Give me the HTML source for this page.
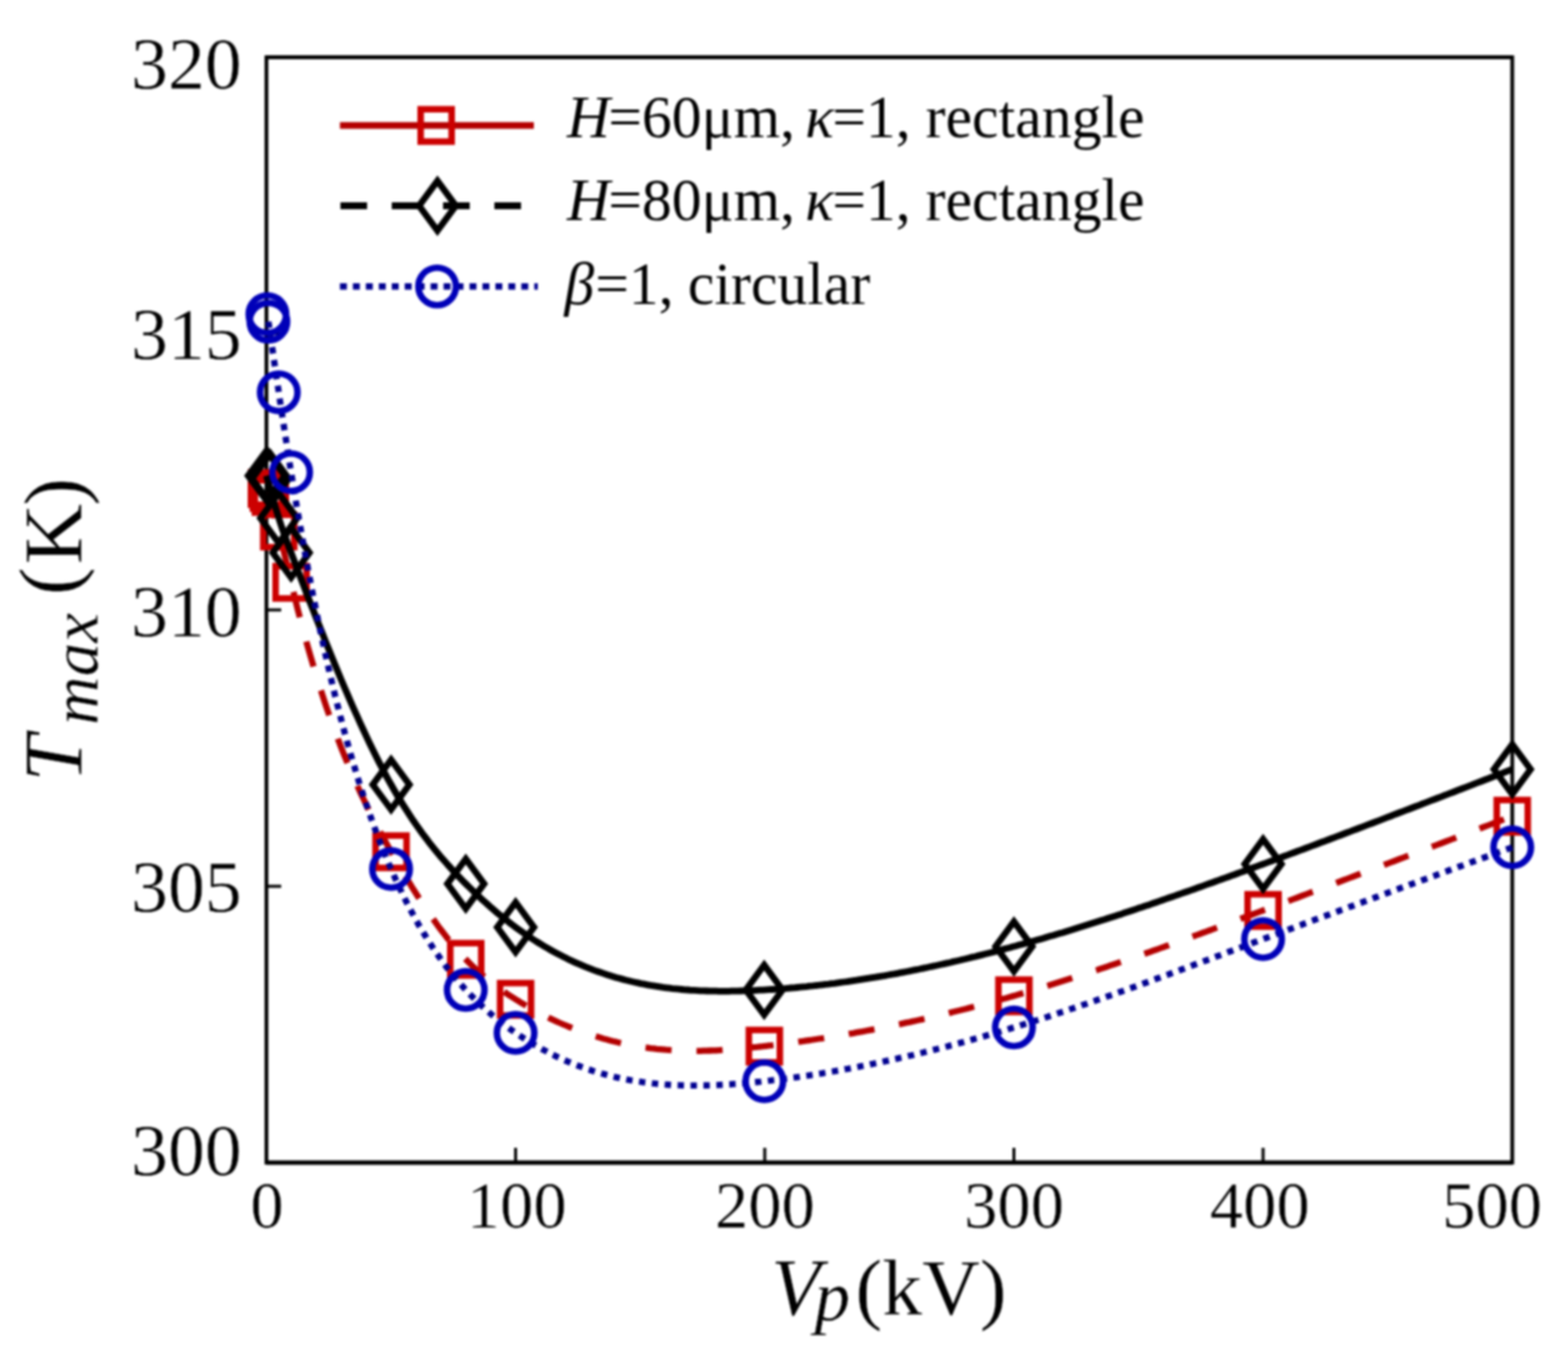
<!DOCTYPE html>
<html lang="en">
<head>
<meta charset="utf-8">
<title>Tmax versus Vp</title>
<style>
html,body{margin:0;padding:0;background:#fff;}
body{width:1589px;height:1379px;overflow:hidden;}
svg{display:block;}
text{font-family:"Liberation Serif","DejaVu Serif",serif;fill:#000;stroke:#fff;stroke-width:0.3px;stroke-linejoin:round;}
.it{font-style:italic;}
.ytick{font-size:74.8px;text-anchor:end;stroke-width:0.5px;}
.xtick{font-size:67.5px;text-anchor:middle;stroke-width:0.4px;}
.leg{font-size:60.5px;stroke-width:0;}
.axl{font-size:85px;}
</style>
</head>
<body>
<svg width="1589" height="1379" viewBox="0 0 1589 1379">
<defs><filter id="soft" filterUnits="userSpaceOnUse" x="0" y="0" width="1589" height="1379" color-interpolation-filters="sRGB"><feGaussianBlur stdDeviation="0.9"/></filter></defs>
<rect x="0" y="0" width="1589" height="1379" fill="#ffffff"/>
<g id="chart" filter="url(#soft)">

<g fill="none" stroke="#000" stroke-width="3.8">
<rect x="270.0" y="58.0" width="1262.5" height="1120.0"/>
<line x1="270.0" y1="1178.0" x2="1532.5" y2="1178.0" stroke-width="4.6"/>
<line x1="270.0" y1="58.0" x2="1532.5" y2="58.0" stroke-width="4.1"/>
<line x1="522.5" y1="1178.0" x2="522.5" y2="1163.0" stroke-width="3"/>
<line x1="775.0" y1="1178.0" x2="775.0" y2="1163.0" stroke-width="3"/>
<line x1="1027.5" y1="1178.0" x2="1027.5" y2="1163.0" stroke-width="3"/>
<line x1="1280.0" y1="1178.0" x2="1280.0" y2="1163.0" stroke-width="3"/>
<line x1="270.0" y1="898.0" stroke-width="3" x2="285.0" y2="898.0"/>
<line x1="270.0" y1="618.0" stroke-width="3" x2="285.0" y2="618.0"/>
<line x1="270.0" y1="338.0" stroke-width="3" x2="285.0" y2="338.0"/>
</g>
<g fill="none" stroke="#cc0000">
<path d="M270.0,495.0 L273.2,505.3 L276.3,515.8 L279.5,526.8 L282.7,538.6 L285.8,551.2 L289.0,564.5 L292.1,577.9 L295.3,591.3 L298.5,604.3 L301.6,617.0 L304.8,629.2 L308.0,641.0 L311.1,652.5 L314.3,663.7 L317.5,674.5 L320.6,684.9 L323.8,695.1 L327.0,704.9 L330.1,714.4 L333.3,723.7 L336.4,732.6 L339.6,741.3 L342.8,749.7 L345.9,757.9 L349.1,765.8 L352.3,773.5 L355.4,781.0 L358.6,788.3 L361.8,795.4 L364.9,802.3 L368.1,809.0 L371.3,815.6 L374.4,822.0 L377.6,828.3 L380.7,834.4 L383.9,840.4 L387.1,846.3 L390.2,852.1 L393.4,857.8 L396.6,863.5 L399.7,869.0 L402.9,874.5 L406.1,879.9 L409.2,885.3 L412.4,890.5 L415.6,895.7 L418.7,900.8 L421.9,905.8 L425.0,910.7 L428.2,915.6 L431.4,920.3 L434.5,924.9 L437.7,929.5 L440.9,933.9 L444.0,938.3 L447.2,942.5 L450.4,946.7 L453.5,950.7 L456.7,954.6 L459.8,958.4 L463.0,962.1 L466.2,965.7 L469.3,969.2 L472.5,972.5 L475.7,975.7 L478.8,978.9 L482.0,981.9 L485.2,984.7 L488.3,987.5 L491.5,990.2 L494.7,992.8 L497.8,995.3 L501.0,997.8 L504.1,1000.1 L507.3,1002.4 L510.5,1004.6 L513.6,1006.8 L516.8,1008.9 L520.0,1010.9 L523.1,1012.9 L526.3,1014.8 L529.5,1016.8 L532.6,1018.6 L535.8,1020.5 L539.0,1022.2 L542.1,1024.0 L545.3,1025.7 L548.4,1027.4 L551.6,1029.0 L554.8,1030.6 L557.9,1032.1 L561.1,1033.6 L564.3,1035.1 L567.4,1036.5 L570.6,1037.9 L573.8,1039.2 L576.9,1040.5 L580.1,1041.8 L583.3,1043.0 L586.4,1044.2 L589.6,1045.4 L592.7,1046.5 L595.9,1047.6 L599.1,1048.6 L602.2,1049.6 L605.4,1050.6 L608.6,1051.6 L611.7,1052.5 L614.9,1053.3 L618.1,1054.2 L621.2,1055.0 L624.4,1055.7 L627.6,1056.5 L630.7,1057.2 L633.9,1057.9 L637.0,1058.5 L640.2,1059.1 L643.4,1059.7 L646.5,1060.2 L649.7,1060.7 L652.9,1061.2 L656.0,1061.6 L659.2,1062.1 L662.4,1062.4 L665.5,1062.8 L668.7,1063.1 L671.8,1063.4 L675.0,1063.7 L678.2,1063.9 L681.3,1064.1 L684.5,1064.3 L687.7,1064.5 L690.8,1064.6 L694.0,1064.7 L697.2,1064.8 L700.3,1064.8 L703.5,1064.8 L706.7,1064.8 L709.8,1064.8 L713.0,1064.7 L716.1,1064.6 L719.3,1064.5 L722.5,1064.4 L725.6,1064.3 L728.8,1064.1 L732.0,1063.9 L735.1,1063.7 L738.3,1063.5 L741.5,1063.3 L744.6,1063.0 L747.8,1062.7 L751.0,1062.5 L754.1,1062.2 L757.3,1061.9 L760.4,1061.5 L763.6,1061.2 L766.8,1060.9 L769.9,1060.5 L773.1,1060.2 L776.3,1059.8 L779.4,1059.4 L782.6,1059.1 L785.8,1058.7 L788.9,1058.3 L792.1,1057.9 L795.3,1057.5 L798.4,1057.1 L801.6,1056.6 L804.7,1056.2 L807.9,1055.8 L811.1,1055.3 L814.2,1054.9 L817.4,1054.4 L820.6,1054.0 L823.7,1053.5 L826.9,1053.0 L830.1,1052.5 L833.2,1052.1 L836.4,1051.6 L839.5,1051.1 L842.7,1050.5 L845.9,1050.0 L849.0,1049.5 L852.2,1049.0 L855.4,1048.4 L858.5,1047.9 L861.7,1047.3 L864.9,1046.8 L868.0,1046.2 L871.2,1045.6 L874.4,1045.1 L877.5,1044.5 L880.7,1043.9 L883.8,1043.3 L887.0,1042.7 L890.2,1042.1 L893.3,1041.4 L896.5,1040.8 L899.7,1040.2 L902.8,1039.5 L906.0,1038.9 L909.2,1038.2 L912.3,1037.6 L915.5,1036.9 L918.7,1036.2 L921.8,1035.6 L925.0,1034.9 L928.1,1034.2 L931.3,1033.5 L934.5,1032.8 L937.6,1032.1 L940.8,1031.3 L944.0,1030.6 L947.1,1029.9 L950.3,1029.1 L953.5,1028.4 L956.6,1027.6 L959.8,1026.9 L963.0,1026.1 L966.1,1025.3 L969.3,1024.5 L972.4,1023.8 L975.6,1023.0 L978.8,1022.2 L981.9,1021.4 L985.1,1020.5 L988.3,1019.7 L991.4,1018.9 L994.6,1018.1 L997.8,1017.2 L1000.9,1016.4 L1004.1,1015.5 L1007.2,1014.7 L1010.4,1013.8 L1013.6,1012.9 L1016.7,1012.0 L1019.9,1011.2 L1023.1,1010.3 L1026.2,1009.4 L1029.4,1008.5 L1032.6,1007.5 L1035.7,1006.6 L1038.9,1005.7 L1042.1,1004.8 L1045.2,1003.8 L1048.4,1002.9 L1051.5,1001.9 L1054.7,1001.0 L1057.9,1000.0 L1061.0,999.1 L1064.2,998.1 L1067.4,997.1 L1070.5,996.1 L1073.7,995.1 L1076.9,994.1 L1080.0,993.1 L1083.2,992.1 L1086.4,991.1 L1089.5,990.1 L1092.7,989.1 L1095.8,988.1 L1099.0,987.0 L1102.2,986.0 L1105.3,985.0 L1108.5,983.9 L1111.7,982.9 L1114.8,981.8 L1118.0,980.8 L1121.2,979.7 L1124.3,978.6 L1127.5,977.6 L1130.7,976.5 L1133.8,975.4 L1137.0,974.3 L1140.1,973.2 L1143.3,972.2 L1146.5,971.1 L1149.6,970.0 L1152.8,968.9 L1156.0,967.8 L1159.1,966.6 L1162.3,965.5 L1165.5,964.4 L1168.6,963.3 L1171.8,962.2 L1174.9,961.1 L1178.1,959.9 L1181.3,958.8 L1184.4,957.7 L1187.6,956.5 L1190.8,955.4 L1193.9,954.3 L1197.1,953.1 L1200.3,952.0 L1203.4,950.8 L1206.6,949.7 L1209.8,948.5 L1212.9,947.4 L1216.1,946.2 L1219.2,945.0 L1222.4,943.9 L1225.6,942.7 L1228.7,941.6 L1231.9,940.4 L1235.1,939.2 L1238.2,938.0 L1241.4,936.9 L1244.6,935.7 L1247.7,934.5 L1250.9,933.4 L1254.1,932.2 L1257.2,931.0 L1260.4,929.8 L1263.5,928.6 L1266.7,927.5 L1269.9,926.3 L1273.0,925.1 L1276.2,923.9 L1279.4,922.7 L1282.5,921.6 L1285.7,920.4 L1288.9,919.2 L1292.0,918.0 L1295.2,916.8 L1298.4,915.6 L1301.5,914.4 L1304.7,913.3 L1307.8,912.1 L1311.0,910.9 L1314.2,909.7 L1317.3,908.5 L1320.5,907.3 L1323.7,906.1 L1326.8,904.9 L1330.0,903.7 L1333.2,902.6 L1336.3,901.4 L1339.5,900.2 L1342.7,899.0 L1345.8,897.8 L1349.0,896.6 L1352.1,895.4 L1355.3,894.2 L1358.5,893.0 L1361.6,891.8 L1364.8,890.6 L1368.0,889.4 L1371.1,888.2 L1374.3,887.0 L1377.5,885.8 L1380.6,884.6 L1383.8,883.5 L1386.9,882.3 L1390.1,881.1 L1393.3,879.9 L1396.4,878.7 L1399.6,877.5 L1402.8,876.3 L1405.9,875.1 L1409.1,873.9 L1412.3,872.7 L1415.4,871.5 L1418.6,870.3 L1421.8,869.1 L1424.9,867.9 L1428.1,866.7 L1431.2,865.5 L1434.4,864.3 L1437.6,863.1 L1440.7,861.9 L1443.9,860.7 L1447.1,859.5 L1450.2,858.3 L1453.4,857.1 L1456.6,855.9 L1459.7,854.7 L1462.9,853.5 L1466.1,852.3 L1469.2,851.1 L1472.4,849.9 L1475.5,848.7 L1478.7,847.5 L1481.9,846.2 L1485.0,845.0 L1488.2,843.8 L1491.4,842.6 L1494.5,841.4 L1497.7,840.2 L1500.9,839.0 L1504.0,837.8 L1507.2,836.6 L1510.4,835.4 L1513.5,834.2 L1516.7,833.0 L1519.8,831.8 L1523.0,830.6 L1526.2,829.4 L1529.3,828.2 L1532.5,827.0" stroke="#b40000" stroke-width="6.3" stroke-linejoin="round" stroke-dasharray="26.5 25.3" stroke-dashoffset="-4.8"/>
<g stroke-width="6.6" stroke-linejoin="miter"><rect x="254.3" y="478.6" width="31.4" height="32.8"/><rect x="256.3" y="482.6" width="31.4" height="32.8"/><rect x="258.3" y="486.6" width="31.4" height="32.8"/><rect x="266.8" y="521.6" width="31.4" height="32.8"/><rect x="279.3" y="573.6" width="31.4" height="32.8"/><rect x="380.6" y="846.6" width="31.4" height="32.8"/><rect x="456.3" y="955.6" width="31.4" height="32.8"/><rect x="506.8" y="996.1" width="31.4" height="32.8"/><rect x="758.9" y="1043.6" width="31.4" height="32.8"/><rect x="1011.8" y="992.6" width="31.4" height="32.8"/><rect x="1264.3" y="906.1" width="31.4" height="32.8"/><rect x="1516.8" y="810.6" width="31.4" height="32.8"/></g>
</g>
<g fill="none" stroke="#000000">
<path d="M270.0,482.0 L273.2,493.4 L276.3,504.5 L279.5,515.3 L282.7,525.5 L285.8,535.0 L289.0,543.9 L292.1,552.5 L295.3,560.8 L298.5,569.1 L301.6,577.4 L304.8,585.7 L308.0,594.0 L311.1,602.2 L314.3,610.4 L317.5,618.5 L320.6,626.6 L323.8,634.6 L327.0,642.6 L330.1,650.5 L333.3,658.3 L336.4,666.1 L339.6,673.8 L342.8,681.5 L345.9,689.0 L349.1,696.5 L352.3,703.9 L355.4,711.2 L358.6,718.4 L361.8,725.4 L364.9,732.4 L368.1,739.3 L371.3,746.1 L374.4,752.7 L377.6,759.2 L380.7,765.6 L383.9,771.9 L387.1,778.0 L390.2,784.0 L393.4,789.8 L396.6,795.5 L399.7,801.0 L402.9,806.4 L406.1,811.6 L409.2,816.7 L412.4,821.7 L415.6,826.6 L418.7,831.3 L421.9,835.9 L425.0,840.3 L428.2,844.7 L431.4,848.9 L434.5,853.1 L437.7,857.1 L440.9,861.1 L444.0,864.9 L447.2,868.7 L450.4,872.3 L453.5,875.9 L456.7,879.4 L459.8,882.9 L463.0,886.3 L466.2,889.6 L469.3,892.8 L472.5,896.0 L475.7,899.1 L478.8,902.2 L482.0,905.3 L485.2,908.3 L488.3,911.2 L491.5,914.1 L494.7,916.9 L497.8,919.7 L501.0,922.4 L504.1,925.1 L507.3,927.7 L510.5,930.2 L513.6,932.7 L516.8,935.2 L520.0,937.6 L523.1,940.0 L526.3,942.3 L529.5,944.5 L532.6,946.7 L535.8,948.9 L539.0,951.0 L542.1,953.0 L545.3,955.0 L548.4,956.9 L551.6,958.8 L554.8,960.7 L557.9,962.5 L561.1,964.3 L564.3,966.0 L567.4,967.6 L570.6,969.2 L573.8,970.8 L576.9,972.4 L580.1,973.8 L583.3,975.3 L586.4,976.7 L589.6,978.0 L592.7,979.4 L595.9,980.6 L599.1,981.9 L602.2,983.1 L605.4,984.2 L608.6,985.3 L611.7,986.4 L614.9,987.5 L618.1,988.5 L621.2,989.4 L624.4,990.4 L627.6,991.3 L630.7,992.1 L633.9,993.0 L637.0,993.7 L640.2,994.5 L643.4,995.2 L646.5,995.9 L649.7,996.6 L652.9,997.2 L656.0,997.8 L659.2,998.4 L662.4,998.9 L665.5,999.4 L668.7,999.9 L671.8,1000.4 L675.0,1000.8 L678.2,1001.2 L681.3,1001.6 L684.5,1001.9 L687.7,1002.2 L690.8,1002.5 L694.0,1002.8 L697.2,1003.0 L700.3,1003.3 L703.5,1003.4 L706.7,1003.6 L709.8,1003.8 L713.0,1003.9 L716.1,1004.0 L719.3,1004.1 L722.5,1004.2 L725.6,1004.2 L728.8,1004.3 L732.0,1004.3 L735.1,1004.3 L738.3,1004.3 L741.5,1004.2 L744.6,1004.2 L747.8,1004.1 L751.0,1004.0 L754.1,1003.9 L757.3,1003.8 L760.4,1003.7 L763.6,1003.6 L766.8,1003.4 L769.9,1003.2 L773.1,1003.1 L776.3,1002.9 L779.4,1002.7 L782.6,1002.5 L785.8,1002.3 L788.9,1002.0 L792.1,1001.8 L795.3,1001.6 L798.4,1001.3 L801.6,1001.0 L804.7,1000.8 L807.9,1000.5 L811.1,1000.2 L814.2,999.9 L817.4,999.6 L820.6,999.2 L823.7,998.9 L826.9,998.5 L830.1,998.2 L833.2,997.8 L836.4,997.4 L839.5,997.1 L842.7,996.7 L845.9,996.3 L849.0,995.8 L852.2,995.4 L855.4,995.0 L858.5,994.6 L861.7,994.1 L864.9,993.6 L868.0,993.2 L871.2,992.7 L874.4,992.2 L877.5,991.7 L880.7,991.2 L883.8,990.7 L887.0,990.2 L890.2,989.6 L893.3,989.1 L896.5,988.6 L899.7,988.0 L902.8,987.4 L906.0,986.9 L909.2,986.3 L912.3,985.7 L915.5,985.1 L918.7,984.5 L921.8,983.9 L925.0,983.2 L928.1,982.6 L931.3,982.0 L934.5,981.3 L937.6,980.7 L940.8,980.0 L944.0,979.3 L947.1,978.7 L950.3,978.0 L953.5,977.3 L956.6,976.6 L959.8,975.9 L963.0,975.2 L966.1,974.4 L969.3,973.7 L972.4,973.0 L975.6,972.2 L978.8,971.5 L981.9,970.7 L985.1,969.9 L988.3,969.2 L991.4,968.4 L994.6,967.6 L997.8,966.8 L1000.9,966.0 L1004.1,965.2 L1007.2,964.4 L1010.4,963.6 L1013.6,962.7 L1016.7,961.9 L1019.9,961.0 L1023.1,960.2 L1026.2,959.3 L1029.4,958.5 L1032.6,957.6 L1035.7,956.7 L1038.9,955.9 L1042.1,955.0 L1045.2,954.1 L1048.4,953.2 L1051.5,952.3 L1054.7,951.4 L1057.9,950.5 L1061.0,949.5 L1064.2,948.6 L1067.4,947.7 L1070.5,946.7 L1073.7,945.8 L1076.9,944.9 L1080.0,943.9 L1083.2,942.9 L1086.4,942.0 L1089.5,941.0 L1092.7,940.0 L1095.8,939.1 L1099.0,938.1 L1102.2,937.1 L1105.3,936.1 L1108.5,935.1 L1111.7,934.1 L1114.8,933.1 L1118.0,932.1 L1121.2,931.0 L1124.3,930.0 L1127.5,929.0 L1130.7,928.0 L1133.8,926.9 L1137.0,925.9 L1140.1,924.8 L1143.3,923.8 L1146.5,922.7 L1149.6,921.7 L1152.8,920.6 L1156.0,919.6 L1159.1,918.5 L1162.3,917.4 L1165.5,916.4 L1168.6,915.3 L1171.8,914.2 L1174.9,913.1 L1178.1,912.0 L1181.3,910.9 L1184.4,909.8 L1187.6,908.7 L1190.8,907.6 L1193.9,906.5 L1197.1,905.4 L1200.3,904.3 L1203.4,903.2 L1206.6,902.1 L1209.8,901.0 L1212.9,899.8 L1216.1,898.7 L1219.2,897.6 L1222.4,896.4 L1225.6,895.3 L1228.7,894.2 L1231.9,893.0 L1235.1,891.9 L1238.2,890.8 L1241.4,889.6 L1244.6,888.5 L1247.7,887.3 L1250.9,886.2 L1254.1,885.0 L1257.2,883.9 L1260.4,882.7 L1263.5,881.5 L1266.7,880.4 L1269.9,879.2 L1273.0,878.1 L1276.2,876.9 L1279.4,875.7 L1282.5,874.6 L1285.7,873.4 L1288.9,872.2 L1292.0,871.1 L1295.2,869.9 L1298.4,868.7 L1301.5,867.5 L1304.7,866.4 L1307.8,865.2 L1311.0,864.0 L1314.2,862.8 L1317.3,861.6 L1320.5,860.5 L1323.7,859.3 L1326.8,858.1 L1330.0,856.9 L1333.2,855.7 L1336.3,854.5 L1339.5,853.3 L1342.7,852.2 L1345.8,851.0 L1349.0,849.8 L1352.1,848.6 L1355.3,847.4 L1358.5,846.2 L1361.6,845.0 L1364.8,843.8 L1368.0,842.6 L1371.1,841.4 L1374.3,840.2 L1377.5,839.0 L1380.6,837.8 L1383.8,836.6 L1386.9,835.4 L1390.1,834.2 L1393.3,833.0 L1396.4,831.8 L1399.6,830.6 L1402.8,829.4 L1405.9,828.2 L1409.1,827.0 L1412.3,825.7 L1415.4,824.5 L1418.6,823.3 L1421.8,822.1 L1424.9,820.9 L1428.1,819.7 L1431.2,818.5 L1434.4,817.3 L1437.6,816.1 L1440.7,814.8 L1443.9,813.6 L1447.1,812.4 L1450.2,811.2 L1453.4,810.0 L1456.6,808.8 L1459.7,807.6 L1462.9,806.3 L1466.1,805.1 L1469.2,803.9 L1472.4,802.7 L1475.5,801.5 L1478.7,800.2 L1481.9,799.0 L1485.0,797.8 L1488.2,796.6 L1491.4,795.4 L1494.5,794.1 L1497.7,792.9 L1500.9,791.7 L1504.0,790.5 L1507.2,789.3 L1510.4,788.0 L1513.5,786.8 L1516.7,785.6 L1519.8,784.4 L1523.0,783.2 L1526.2,781.9 L1529.3,780.7 L1532.5,779.5" stroke="#000000" stroke-width="6.8" stroke-linejoin="round"/>
<g stroke-width="6.6" stroke-linejoin="miter"><path d="M270.0,456.8 L288.6,482.0 L270.0,507.2 L251.4,482.0 Z"/><path d="M272.0,458.3 L290.6,483.5 L272.0,508.7 L253.4,483.5 Z"/><path d="M274.0,459.8 L292.6,485.0 L274.0,510.2 L255.4,485.0 Z"/><path d="M282.5,499.8 L301.1,525.0 L282.5,550.2 L263.9,525.0 Z"/><path d="M295.0,534.8 L313.6,560.0 L295.0,585.2 L276.4,560.0 Z"/><path d="M396.3,769.8 L414.9,795.0 L396.3,820.2 L377.7,795.0 Z"/><path d="M472.0,870.3 L490.6,895.5 L472.0,920.7 L453.4,895.5 Z"/><path d="M522.5,914.3 L541.1,939.5 L522.5,964.7 L503.9,939.5 Z"/><path d="M774.4,977.8 L793.0,1003.0 L774.4,1028.2 L755.8,1003.0 Z"/><path d="M1027.5,933.8 L1046.1,959.0 L1027.5,984.2 L1008.9,959.0 Z"/><path d="M1280.0,850.3 L1298.6,875.5 L1280.0,900.7 L1261.4,875.5 Z"/><path d="M1532.5,754.3 L1551.1,779.5 L1532.5,804.7 L1513.9,779.5 Z"/></g>
</g>
<g fill="none" stroke="#0000b8">
<path d="M272.0,325.9 L275.2,347.6 L278.3,369.2 L281.5,390.6 L284.6,411.8 L287.8,432.6 L291.0,453.0 L294.1,473.0 L297.3,492.4 L300.4,511.3 L303.6,529.7 L306.8,547.5 L309.9,564.9 L313.1,581.7 L316.2,598.1 L319.4,613.9 L322.5,629.3 L325.7,644.3 L328.9,658.8 L332.0,672.9 L335.2,686.5 L338.3,699.7 L341.5,712.5 L344.7,724.9 L347.8,737.0 L351.0,748.6 L354.1,759.9 L357.3,770.8 L360.5,781.4 L363.6,791.7 L366.8,801.6 L369.9,811.2 L373.1,820.5 L376.3,829.5 L379.4,838.2 L382.6,846.7 L385.7,854.9 L388.9,862.8 L392.0,870.5 L395.2,878.0 L398.4,885.2 L401.5,892.2 L404.7,899.0 L407.8,905.7 L411.0,912.1 L414.2,918.3 L417.3,924.3 L420.5,930.1 L423.6,935.8 L426.8,941.2 L430.0,946.5 L433.1,951.7 L436.3,956.6 L439.4,961.4 L442.6,966.1 L445.8,970.6 L448.9,975.0 L452.1,979.2 L455.2,983.3 L458.4,987.3 L461.5,991.1 L464.7,994.8 L467.9,998.4 L471.0,1001.9 L474.2,1005.3 L477.3,1008.6 L480.5,1011.8 L483.7,1014.9 L486.8,1017.9 L490.0,1020.9 L493.1,1023.7 L496.3,1026.4 L499.5,1029.1 L502.6,1031.7 L505.8,1034.2 L508.9,1036.7 L512.1,1039.1 L515.3,1041.4 L518.4,1043.7 L521.6,1045.9 L524.7,1048.0 L527.9,1050.1 L531.1,1052.2 L534.2,1054.1 L537.4,1056.1 L540.5,1058.0 L543.7,1059.8 L546.8,1061.6 L550.0,1063.4 L553.2,1065.0 L556.3,1066.7 L559.5,1068.3 L562.6,1069.8 L565.8,1071.3 L569.0,1072.8 L572.1,1074.2 L575.3,1075.6 L578.4,1076.9 L581.6,1078.2 L584.8,1079.4 L587.9,1080.6 L591.1,1081.8 L594.2,1082.9 L597.4,1083.9 L600.6,1085.0 L603.7,1086.0 L606.9,1086.9 L610.0,1087.8 L613.2,1088.7 L616.3,1089.5 L619.5,1090.3 L622.7,1091.1 L625.8,1091.8 L629.0,1092.5 L632.1,1093.2 L635.3,1093.8 L638.5,1094.4 L641.6,1094.9 L644.8,1095.5 L647.9,1095.9 L651.1,1096.4 L654.3,1096.8 L657.4,1097.2 L660.6,1097.6 L663.7,1097.9 L666.9,1098.2 L670.1,1098.5 L673.2,1098.8 L676.4,1099.0 L679.5,1099.2 L682.7,1099.4 L685.8,1099.5 L689.0,1099.6 L692.2,1099.7 L695.3,1099.8 L698.5,1099.9 L701.6,1099.9 L704.8,1099.9 L708.0,1099.9 L711.1,1099.8 L714.3,1099.8 L717.4,1099.7 L720.6,1099.6 L723.8,1099.5 L726.9,1099.4 L730.1,1099.2 L733.2,1099.0 L736.4,1098.9 L739.6,1098.7 L742.7,1098.4 L745.9,1098.2 L749.0,1098.0 L752.2,1097.7 L755.3,1097.4 L758.5,1097.1 L761.7,1096.8 L764.8,1096.5 L768.0,1096.2 L771.1,1095.9 L774.3,1095.5 L777.5,1095.2 L780.6,1094.8 L783.8,1094.4 L786.9,1094.1 L790.1,1093.7 L793.3,1093.3 L796.4,1092.9 L799.6,1092.5 L802.7,1092.0 L805.9,1091.6 L809.1,1091.2 L812.2,1090.7 L815.4,1090.2 L818.5,1089.8 L821.7,1089.3 L824.9,1088.8 L828.0,1088.3 L831.2,1087.8 L834.3,1087.3 L837.5,1086.8 L840.6,1086.2 L843.8,1085.7 L847.0,1085.1 L850.1,1084.6 L853.3,1084.0 L856.4,1083.4 L859.6,1082.9 L862.8,1082.3 L865.9,1081.7 L869.1,1081.1 L872.2,1080.4 L875.4,1079.8 L878.6,1079.2 L881.7,1078.5 L884.9,1077.9 L888.0,1077.2 L891.2,1076.6 L894.4,1075.9 L897.5,1075.2 L900.7,1074.5 L903.8,1073.8 L907.0,1073.1 L910.1,1072.4 L913.3,1071.7 L916.5,1071.0 L919.6,1070.3 L922.8,1069.5 L925.9,1068.8 L929.1,1068.0 L932.3,1067.2 L935.4,1066.5 L938.6,1065.7 L941.7,1064.9 L944.9,1064.1 L948.1,1063.3 L951.2,1062.5 L954.4,1061.7 L957.5,1060.9 L960.7,1060.1 L963.9,1059.2 L967.0,1058.4 L970.2,1057.5 L973.3,1056.7 L976.5,1055.8 L979.6,1054.9 L982.8,1054.1 L986.0,1053.2 L989.1,1052.3 L992.3,1051.4 L995.4,1050.5 L998.6,1049.6 L1001.8,1048.7 L1004.9,1047.8 L1008.1,1046.8 L1011.2,1045.9 L1014.4,1045.0 L1017.6,1044.0 L1020.7,1043.1 L1023.9,1042.1 L1027.0,1041.1 L1030.2,1040.2 L1033.4,1039.2 L1036.5,1038.2 L1039.7,1037.2 L1042.8,1036.2 L1046.0,1035.2 L1049.2,1034.2 L1052.3,1033.2 L1055.5,1032.2 L1058.6,1031.2 L1061.8,1030.2 L1064.9,1029.1 L1068.1,1028.1 L1071.3,1027.0 L1074.4,1026.0 L1077.6,1025.0 L1080.7,1023.9 L1083.9,1022.8 L1087.1,1021.8 L1090.2,1020.7 L1093.4,1019.6 L1096.5,1018.5 L1099.7,1017.5 L1102.9,1016.4 L1106.0,1015.3 L1109.2,1014.2 L1112.3,1013.1 L1115.5,1012.0 L1118.7,1010.9 L1121.8,1009.8 L1125.0,1008.7 L1128.1,1007.6 L1131.3,1006.4 L1134.4,1005.3 L1137.6,1004.2 L1140.8,1003.1 L1143.9,1001.9 L1147.1,1000.8 L1150.2,999.7 L1153.4,998.5 L1156.6,997.4 L1159.7,996.2 L1162.9,995.1 L1166.0,993.9 L1169.2,992.8 L1172.4,991.6 L1175.5,990.5 L1178.7,989.3 L1181.8,988.1 L1185.0,987.0 L1188.2,985.8 L1191.3,984.6 L1194.5,983.5 L1197.6,982.3 L1200.8,981.1 L1203.9,980.0 L1207.1,978.8 L1210.3,977.6 L1213.4,976.4 L1216.6,975.2 L1219.7,974.1 L1222.9,972.9 L1226.1,971.7 L1229.2,970.5 L1232.4,969.3 L1235.5,968.2 L1238.7,967.0 L1241.9,965.8 L1245.0,964.6 L1248.2,963.4 L1251.3,962.2 L1254.5,961.1 L1257.7,959.9 L1260.8,958.7 L1264.0,957.5 L1267.1,956.3 L1270.3,955.1 L1273.4,954.0 L1276.6,952.8 L1279.8,951.6 L1282.9,950.4 L1286.1,949.2 L1289.2,948.0 L1292.4,946.9 L1295.6,945.7 L1298.7,944.5 L1301.9,943.3 L1305.0,942.2 L1308.2,941.0 L1311.4,939.8 L1314.5,938.6 L1317.7,937.5 L1320.8,936.3 L1324.0,935.1 L1327.2,933.9 L1330.3,932.8 L1333.5,931.6 L1336.6,930.4 L1339.8,929.2 L1343.0,928.1 L1346.1,926.9 L1349.3,925.7 L1352.4,924.6 L1355.6,923.4 L1358.7,922.2 L1361.9,921.1 L1365.1,919.9 L1368.2,918.7 L1371.4,917.6 L1374.5,916.4 L1377.7,915.2 L1380.9,914.1 L1384.0,912.9 L1387.2,911.7 L1390.3,910.6 L1393.5,909.4 L1396.7,908.3 L1399.8,907.1 L1403.0,905.9 L1406.1,904.8 L1409.3,903.6 L1412.5,902.4 L1415.6,901.3 L1418.8,900.1 L1421.9,899.0 L1425.1,897.8 L1428.2,896.6 L1431.4,895.5 L1434.6,894.3 L1437.7,893.2 L1440.9,892.0 L1444.0,890.9 L1447.2,889.7 L1450.4,888.5 L1453.5,887.4 L1456.7,886.2 L1459.8,885.1 L1463.0,883.9 L1466.2,882.8 L1469.3,881.6 L1472.5,880.4 L1475.6,879.3 L1478.8,878.1 L1482.0,877.0 L1485.1,875.8 L1488.3,874.7 L1491.4,873.5 L1494.6,872.4 L1497.7,871.2 L1500.9,870.0 L1504.1,868.9 L1507.2,867.7 L1510.4,866.6 L1513.5,865.4 L1516.7,864.3 L1519.9,863.1 L1523.0,862.0 L1526.2,860.8 L1529.3,859.7 L1532.5,858.5" stroke="#000090" stroke-width="6.4" stroke-linejoin="round" stroke-dasharray="6.5 6.6" stroke-dashoffset="0"/>
<g stroke-width="6.6" stroke-linejoin="miter"><circle cx="271.0" cy="318.3" r="19.0"/><circle cx="272.0" cy="325.9" r="19.0"/><circle cx="282.5" cy="397.5" r="19.0"/><circle cx="295.0" cy="478.5" r="19.0"/><circle cx="396.3" cy="880.5" r="19.0"/><circle cx="472.0" cy="1003.0" r="19.0"/><circle cx="522.5" cy="1046.5" r="19.0"/><circle cx="774.6" cy="1095.5" r="19.0"/><circle cx="1027.5" cy="1041.0" r="19.0"/><circle cx="1280.0" cy="951.5" r="19.0"/><circle cx="1532.5" cy="858.5" r="19.0"/></g>
</g>
<text class="ytick" x="245" y="1191.0">300</text>
<text class="ytick" x="245" y="924.2">305</text>
<text class="ytick" x="245" y="644.5">310</text>
<text class="ytick" x="245" y="363.6">315</text>
<text class="ytick" x="245" y="90.4">320</text>
<text class="xtick" x="270.5" y="1243.5">0</text>
<text class="xtick" x="523.5" y="1243.5">100</text>
<text class="xtick" x="775.0" y="1243.5">200</text>
<text class="xtick" x="1027.5" y="1243.5">300</text>
<text class="xtick" x="1276.5" y="1243.5">400</text>
<text class="xtick" x="1512" y="1243.5">500</text>
<g fill="none" stroke-width="6.6">
<line x1="344.5" y1="127.1" x2="541" y2="127.1" stroke="#b40000"/>
<line x1="345" y1="208.5" x2="541" y2="208.5" stroke="#000000" stroke-width="7.2" stroke-dasharray="27 25"/>
<line x1="344.5" y1="290.2" x2="545" y2="290.2" stroke="#000090" stroke-dasharray="7 6.13"/>
</g>
<g fill="none" stroke-width="6.6">
<g stroke="#cc0000"><rect x="426.3" y="110.7" width="31.4" height="32.8"/></g>
<g stroke="#000000"><path d="M443.3,183.3 L461.9,208.5 L443.3,233.7 L424.7,208.5 Z"/></g>
<g stroke="#0000b8"><circle cx="443.0" cy="290.2" r="19.0"/></g>
</g>
<text class="leg" y="138.6"><tspan class="it" x="574.5">H</tspan><tspan x="616.5">=60μm, </tspan><tspan class="it" x="816">κ</tspan><tspan x="843.5">=1, rectangle</tspan></text>
<text class="leg" y="223.2"><tspan class="it" x="574.5">H</tspan><tspan x="616.5">=80μm, </tspan><tspan class="it" x="816">κ</tspan><tspan x="843.5">=1, rectangle</tspan></text>
<text class="leg" y="307.8"><tspan class="it" x="572">β</tspan><tspan dx="1">=1, </tspan><tspan x="697.1">circular</tspan></text>
<text class="axl" y="1332"><tspan class="it" x="781.5" font-size="82">V</tspan><tspan class="it" font-size="72" x="825.5" dy="5.5">p</tspan><tspan x="867" dy="-5.5" font-size="81">(kV)</tspan></text>
<text class="axl" transform="translate(83,0) rotate(-90)"><tspan class="it" x="-792" y="0">T</tspan><tspan class="it" font-size="68" x="-734.4" y="16">max </tspan><tspan x="-603" y="-5.4">(</tspan><tspan x="-571.7" y="0">K</tspan><tspan x="-512.4" y="-0.5">)</tspan></text>
</g>
</svg>
</body>
</html>
